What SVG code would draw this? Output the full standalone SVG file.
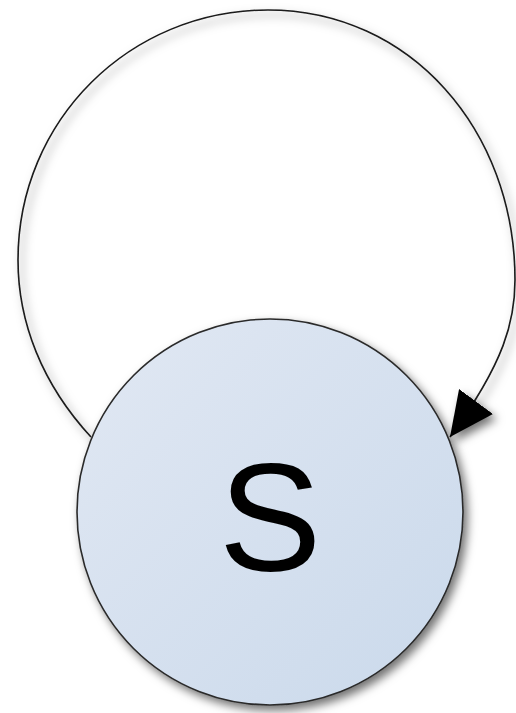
<svg xmlns="http://www.w3.org/2000/svg" width="516" height="713" viewBox="0 0 516 713">
<style>
.node{fill:url(#g);stroke:#2a2a2a;stroke-width:1.6}
.edge{fill:none;stroke:#1a1a1a;stroke-width:1.6}
.lbl{font-family:"Liberation Sans",Arial,sans-serif;font-size:154px;fill:#000;text-anchor:middle}
</style>
<defs>
<linearGradient id="g" x1="0" y1="0" x2="1" y2="1">
<stop offset="0" stop-color="#e1e8f3"/>
<stop offset="1" stop-color="#cad9eb"/>
</linearGradient>
<filter id="sh" x="-20%" y="-20%" width="140%" height="140%">
<feDropShadow dx="4" dy="5" stdDeviation="5" flood-color="#000" flood-opacity="0.55"/>
</filter>
<marker id="arr" viewBox="0 0 44 42" refX="44" refY="21" markerWidth="44" markerHeight="42" markerUnits="userSpaceOnUse" orient="auto">
<path d="M0,0 L44,21 L0,42 Z" fill="#000"/>
</marker>
</defs>
<g id="connectors" filter="url(#sh)">
<path class="edge" marker-end="url(#arr)" d="M91,437 C42,384 18,322 18,260 C18,120 130,10 268,10 C410,10 515,130 515,280 C515,320 505,362 450,437"/>
</g>
<g id="node-S" filter="url(#sh)">
<circle class="node" cx="270" cy="512" r="193"/>
<text class="lbl" x="270" y="571">S</text>
</g>
</svg>
